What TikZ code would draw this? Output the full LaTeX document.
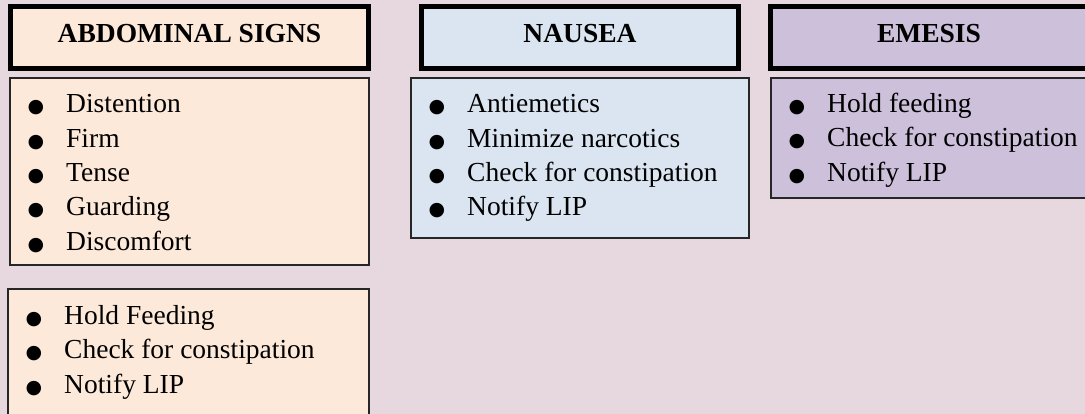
\documentclass[tikz,border=0pt]{standalone}
\usepackage{fontspec}
\setmainfont{Liberation Serif}
\newfontfamily\bulfont{DejaVu Sans}
\definecolor{bgc}{HTML}{E7D8E0}
\definecolor{peach}{HTML}{FDE9D9}
\definecolor{bluec}{HTML}{DBE5F1}
\definecolor{purp}{HTML}{CCC0DA}
\tikzset{
  headbox/.style={draw=black, line width=5pt},
  listbox/.style={draw=black!85, line width=1.3pt},
  headtxt/.style={inner sep=0pt, font=\fontsize{27.5}{33}\selectfont\bfseries, text=black},
  itm/.style={inner sep=0pt, font=\fontsize{27.5}{33}\selectfont, text=black},
  bul/.style={inner sep=0pt, font=\bulfont\fontsize{19}{19}\selectfont, text=black},
}
\newcommand{\itemrow}[4]{%
  \node[bul, anchor=base] (#1b) at (#2,#3) {●};
  \node[itm, anchor=base west] (#1) at (#2+30,#3) {#4};}
\begin{document}
\begin{tikzpicture}[x=1pt,y=-1pt]
\useasboundingbox (0,0) rectangle (1085,414);
\clip (0,0) rectangle (1085,414);
\fill[bgc] (0,0) rectangle (1085,414);
% header boxes
\filldraw[headbox, fill=peach] (10.5,6.5) rectangle (368.5,68.5);
\filldraw[headbox, fill=bluec] (421.5,6.5) rectangle (738.5,68.5);
\filldraw[headbox, fill=purp] (770.5,6.5) rectangle (1100,68.5);
\node[headtxt, anchor=base] (habd) at (189.5,43) {ABDOMINAL SIGNS};
\node[headtxt, anchor=base] (hnau) at (580,43) {NAUSEA};
\node[headtxt, anchor=base] (heme) at (929,43) {EMESIS};
% list boxes
\filldraw[listbox, fill=peach] (10,78) rectangle (369,265);
\filldraw[listbox, fill=bluec] (411,78) rectangle (749,238);
\filldraw[listbox, fill=purp] (771,78) rectangle (1100,198);
\filldraw[listbox, fill=peach] (8,289) rectangle (369,430);
% abdominal items
\itemrow{a1}{36}{113}{Distention}
\itemrow{a2}{36}{147.3}{Firm}
\itemrow{a3}{36}{181.6}{Tense}
\itemrow{a4}{36}{215.9}{Guarding}
\itemrow{a5}{36}{250.2}{Discomfort}
% nausea items
\itemrow{n1}{437}{113}{Antiemetics}
\itemrow{n2}{437}{147.3}{Minimize narcotics}
\itemrow{n3}{437}{181.6}{Check for constipation}
\itemrow{n4}{437}{215.9}{Notify LIP}
% emesis items
\itemrow{e1}{797}{112.5}{Hold feeding}
\itemrow{e2}{797}{146.8}{Check for constipation}
\itemrow{e3}{797}{181.1}{Notify LIP}
% bottom items
\itemrow{b1}{34}{324.5}{Hold Feeding}
\itemrow{b2}{34}{358.8}{Check for constipation}
\itemrow{b3}{34}{393.1}{Notify LIP}
\end{tikzpicture}
\end{document}
